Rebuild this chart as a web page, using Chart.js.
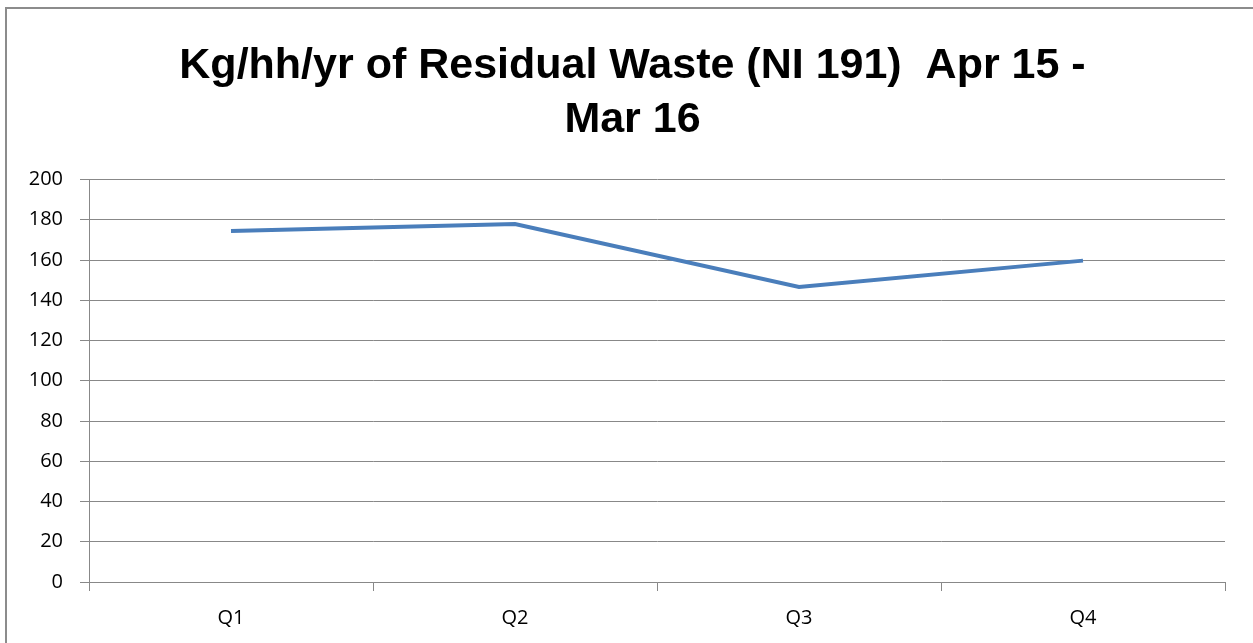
<!DOCTYPE html>
<html>
<head>
<meta charset="utf-8">
<script src="https://cdn.jsdelivr.net/npm/chart.js@4.4.1/dist/chart.umd.min.js"></script>
<style>
  html, body { margin: 0; padding: 0; background: #fff; }
  #wrap { position: relative; width: 1253px; height: 643px; overflow: hidden; }
  #frame { position: absolute; left: 5px; top: 7px; width: 1300px; height: 700px; border-top: 2px solid #8c8c8c; border-left: 2px solid #8c8c8c; box-sizing: border-box; pointer-events: none; }
  canvas { position: absolute; left: 0; top: 0; }
</style>
</head>
<body>
<div id="wrap">
  <canvas id="c" width="1253" height="643"></canvas>
  <div id="frame"></div>
</div>
<script>
const titleLines = ["Kg/hh/yr of Residual Waste (NI 191)  Apr 15 -", "Mar 16"];
const categories = ["Q1", "Q2", "Q3", "Q4"];
const residualWaste = [174.4, 177.9, 146.6, 159.7];
const yTicks = [0, 20, 40, 60, 80, 100, 120, 140, 160, 180, 200];

const fontFamily = "'Liberation Sans', Arial, sans-serif";
const tickFont = "'Open Sans', 'Liberation Sans', sans-serif";

new Chart(document.getElementById('c'), {
  type: 'line',
  data: {
    labels: categories,
    datasets: [{
      data: residualWaste,
      borderColor: '#4a7ebb',
      borderWidth: 4,
      pointRadius: 0,
      tension: 0,
      fill: false
    }]
  },
  options: {
    responsive: false,
    animation: false,
    devicePixelRatio: 1,
    layout: { padding: { left: 0, right: 28, top: 0, bottom: 0 } },
    plugins: {
      legend: { display: false },
      tooltip: { enabled: false },
      title: {
        display: true,
        text: titleLines,
        color: '#000',
        font: { family: fontFamily, size: 43, weight: 'bold', lineHeight: 1.256 },
        padding: { top: 39, bottom: 32.5 }
      }
    },
    scales: {
      x: {
        type: 'category',
        offset: true,
        grid: {
          display: true,
          offset: true,
          drawOnChartArea: false,
          drawTicks: true,
          tickLength: 9,
          color: '#888',
          lineWidth: 1
        },
        border: { display: true, color: '#888', width: 1 },
        ticks: {
          color: '#000',
          font: { family: tickFont, size: 20 },
          padding: 15,
          maxRotation: 0
        },
        afterFit(scale) { scale.height = 61; }
      },
      y: {
        min: 0,
        max: 200,
        afterBuildTicks(scale) { scale.ticks = yTicks.map(v => ({ value: v })); },
        grid: {
          color: '#888',
          lineWidth: 1,
          drawTicks: true,
          tickLength: 9
        },
        border: { display: true, color: '#888', width: 1 },
        ticks: {
          color: '#000',
          font: { family: tickFont, size: 20 },
          padding: 17
        },
        afterFit(scale) { scale.width = 89; }
      }
    }
  },
  plugins: [{
    id: 'bg',
    beforeDraw(chart) {
      const ctx = chart.ctx;
      ctx.save();
      ctx.fillStyle = '#fff';
      ctx.fillRect(0, 0, chart.width, chart.height);
      ctx.restore();
    }
  }, {
    id: 'titleShift',
    afterLayout(chart) {
      const t = chart.titleBlock;
      if (t) { t.left += 20; t.right += 20; }
    }
  }]
});
</script>
</body>
</html>
